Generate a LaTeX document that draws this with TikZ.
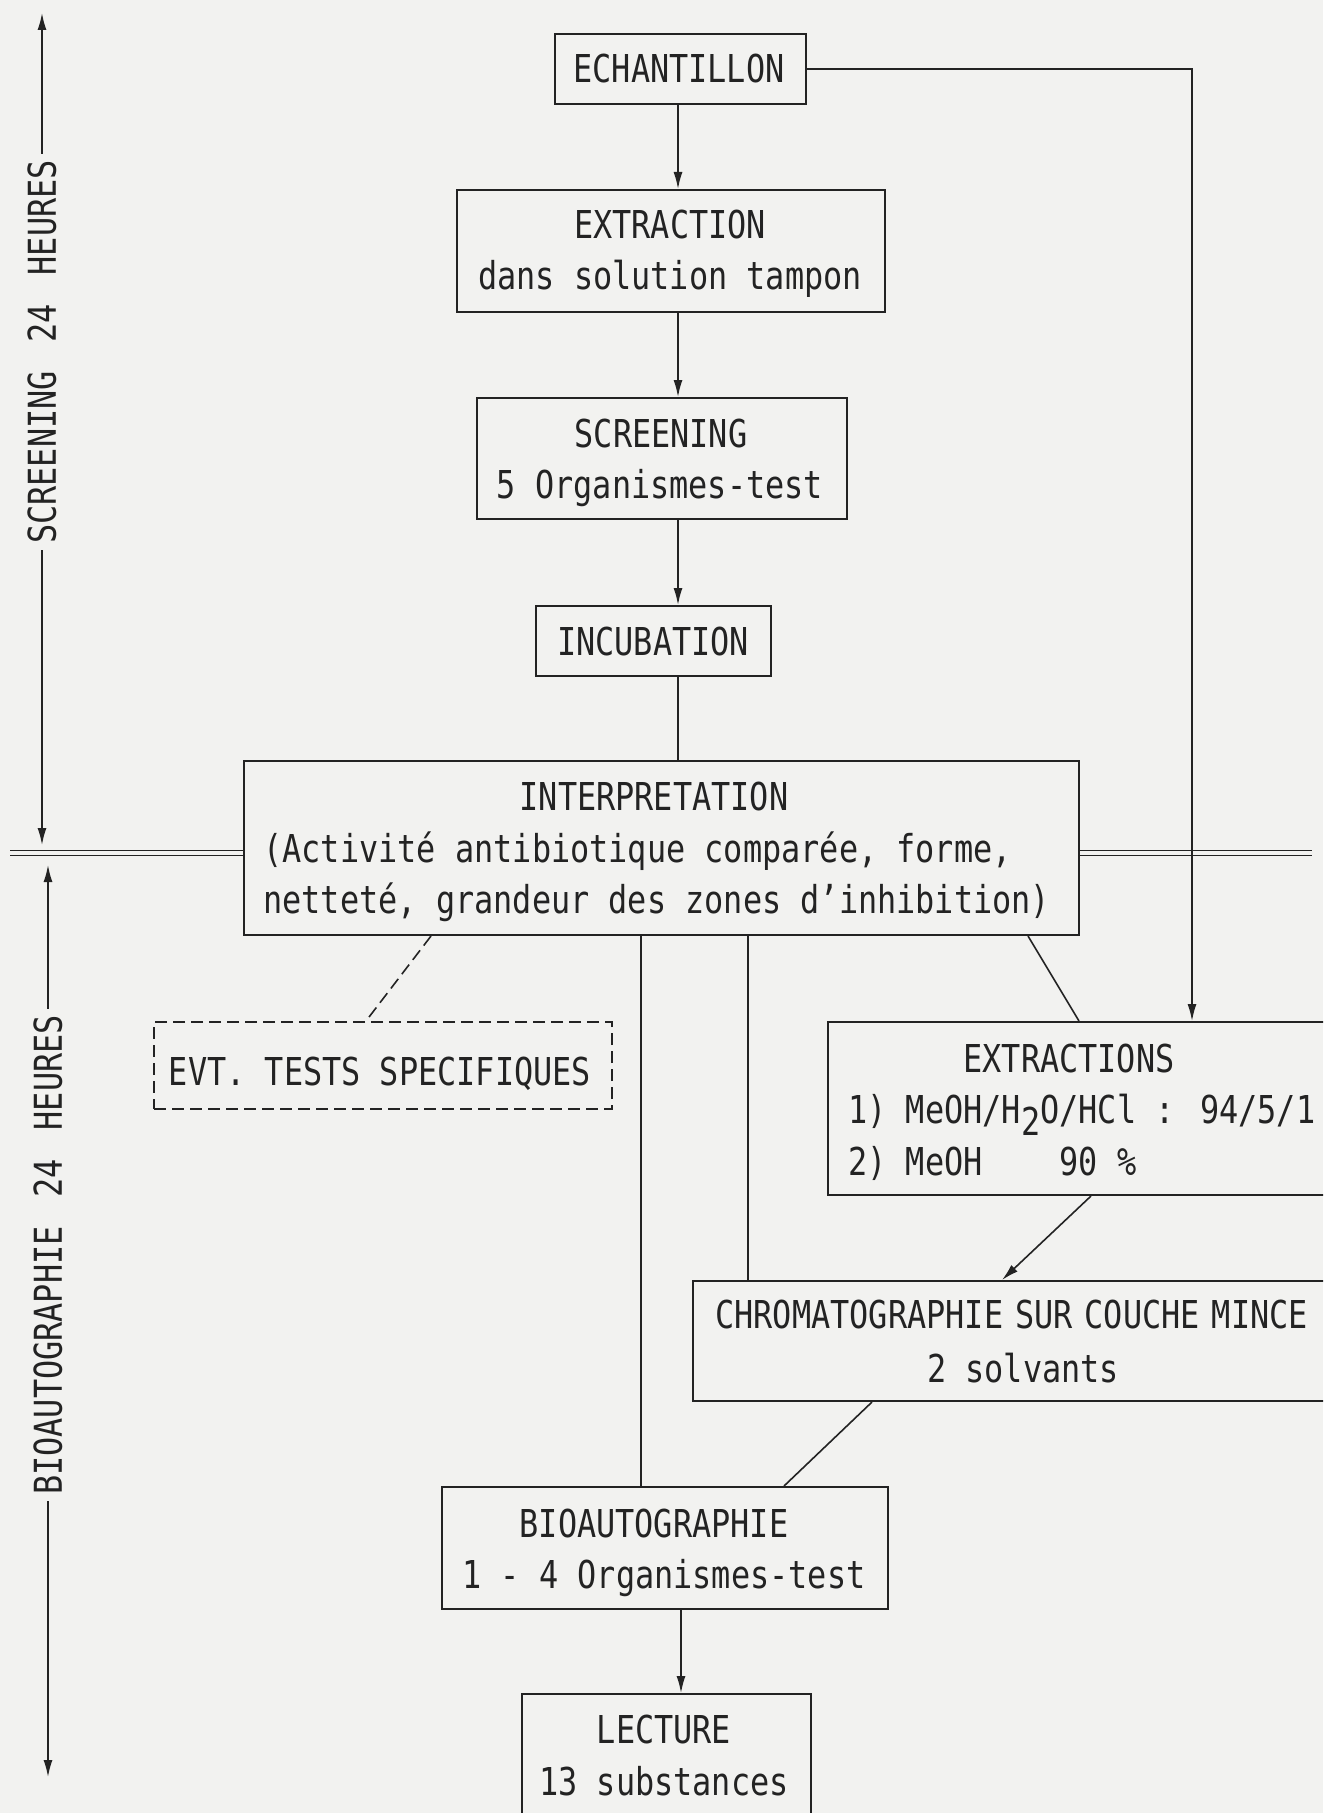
\documentclass[tikz,border=0pt]{standalone}
\usepackage{fontspec}
\newfontfamily\tw[FakeStretch=0.83]{DejaVu Sans Mono}
\usetikzlibrary{arrows.meta,calc}
\definecolor{paper}{RGB}{242,242,240}
\definecolor{ink}{RGB}{35,35,35}
\begin{document}
\begin{tikzpicture}[x=0.5pt,y=-0.5pt,
  box/.style={draw=ink, line width=1pt, inner sep=0pt, rectangle},
  dbox/.style={box, dash pattern=on 6pt off 3pt},
  txt/.style={inner sep=0pt, font={\tw\fontsize{19.2pt}{25.5pt}\selectfont}, text=ink},
  con/.style={draw=ink, line width=0.8pt},
  arr/.style={con, -{Latex[length=8.5pt,width=4.5pt]}},
  dbl/.style={draw=ink, line width=0.7pt, double=paper, double distance=1.6pt},
]
\fill[paper] (0,0) rectangle (1323,1813);
\useasboundingbox (0,0) rectangle (1323,1813);
\clip (0,0) rectangle (1323,1813);

% boxes
\node[box, minimum width=125.5pt, minimum height=35pt] (ech) at (680.5,69) {};
\node[box, minimum width=214pt, minimum height=61pt] (ext) at (671,251) {};
\node[box, minimum width=185pt, minimum height=60.5pt] (scr) at (662,458.5) {};
\node[box, minimum width=117.5pt, minimum height=35pt] (inc) at (653.5,641) {};
\node[box, minimum width=417.5pt, minimum height=87pt] (int) at (661.5,848) {};
\node[dbox, minimum width=229pt, minimum height=43.5pt] (evt) at (383,1065.5) {};
\node[box, minimum width=266pt, minimum height=86.5pt] (extr) at (1094,1108.5) {};
\node[box, minimum width=333.5pt, minimum height=60pt] (chr) at (1026.5,1341) {};
\node[box, minimum width=223pt, minimum height=61pt] (bio) at (665,1548) {};
\node[box, minimum width=144.5pt, minimum height=83pt] (lec) at (666.5,1777) {};

% texts
\node[txt, anchor=base] (ech1) at (679,83) {ECHANTILLON};
\node[txt, anchor=base] (ext1) at (670,239) {EXTRACTION};
\node[txt, anchor=base] (ext2) at (670,290) {dans solution tampon};
\node[txt, anchor=base] (scr1) at (661,447) {SCREENING};
\node[txt, anchor=base] (scr2) at (660,498) {5 Organismes-test};
\node[txt, anchor=base] (inc1) at (653,655) {INCUBATION};
\node[txt, anchor=base] (int1) at (654,810) {INTERPRETATION};
\node[txt, anchor=base west] (int2) at (263,862) {(Activité antibiotique comparée, forme,};
\node[txt, anchor=base west] (int3) at (263,913) {netteté, grandeur des zones d’inhibition)};
\node[txt, anchor=base] (evt1) at (380,1085) {EVT. TESTS SPECIFIQUES};
\node[txt, anchor=base] (extr1) at (1069,1072) {EXTRACTIONS};
\node[txt, anchor=base west] (extr2) at (848,1123) {1) MeOH/H\raisebox{-6pt}{2}O/HCl : 94/5/1};
\node[txt, anchor=base west] (extr3) at (848,1175) {2) MeOH\hspace{38.4pt}90 \%};
\node[txt, anchor=base west] (chr1) at (715,1328) {CHROMATOGRAPHIE\hspace{6pt}SUR\hspace{6pt}COUCHE\hspace{6pt}MINCE};
\node[txt, anchor=base] (chr2) at (1023,1382) {2 solvants};
\node[txt, anchor=base] (bio1) at (654,1537) {BIOAUTOGRAPHIE};
\node[txt, anchor=base] (bio2) at (664,1588) {1 - 4 Organismes-test};
\node[txt, anchor=base] (lec1) at (664,1743) {LECTURE};
\node[txt, anchor=base] (lec2) at (664,1795) {13 substances};

% spines
\coordinate (spine) at (678,0);
\coordinate (rsp) at (1192,0);
\coordinate (lsp) at (641,0);
\coordinate (msp) at (748,0);
\coordinate (bsp) at (681,0);

% double horizontal line
\coordinate (dl) at (10,853);
\coordinate (dr) at (1312,853);
\draw[dbl] (dl) -- (int.west |- dl);
\draw[dbl] (int.east |- dl) -- (dr);

% connectors
\draw[arr] (spine |- ech.south) -- (spine |- ext.north);
\draw[arr] (spine |- ext.south) -- (spine |- scr.north);
\draw[arr] (spine |- scr.south) -- (spine |- inc.north);
\draw[con] (spine |- inc.south) -- (spine |- int.north);
\draw[arr] (ech.east) -- (rsp |- ech.east) -- (rsp |- extr.north);
\draw[con, dash pattern=on 6pt off 3pt] ($(int.south west)+(188,0)$) -- ($(evt.north west)+(213,0)$);
\draw[con] (lsp |- int.south) -- (lsp |- bio.north);
\draw[con] (msp |- int.south) -- (msp |- chr.north);
\draw[con] ($(int.south west)+(785,0)$) -- ($(extr.north west)+(252,0)$);
\draw[arr] ($(extr.south west)+(264,0)$) -- ($(chr.north west)+(310,0)$);
\draw[con] ($(chr.south west)+(180,0)$) -- ($(bio.north west)+(343,0)$);
\draw[arr] (bsp |- bio.south) -- (bsp |- lec.north);

% side labels
\node[txt, rotate=90, inner sep=3pt] (lab1) at (42,352) {SCREENING\hspace{14.4pt}24\hspace{14.4pt}HEURES};
\coordinate (t1) at (42,13);
\coordinate (t2) at (42,845);
\draw[arr] (lab1.east) -- (t1);
\draw[arr] (lab1.west) -- (t2);
\node[txt, rotate=90, inner sep=3pt] (lab2) at (48,1255) {BIOAUTOGRAPHIE\hspace{14.4pt}24\hspace{14.4pt}HEURES};
\coordinate (t3) at (48,865);
\coordinate (t4) at (48,1777);
\draw[arr] (lab2.east) -- (t3);
\draw[arr] (lab2.west) -- (t4);
\end{tikzpicture}
\end{document}
